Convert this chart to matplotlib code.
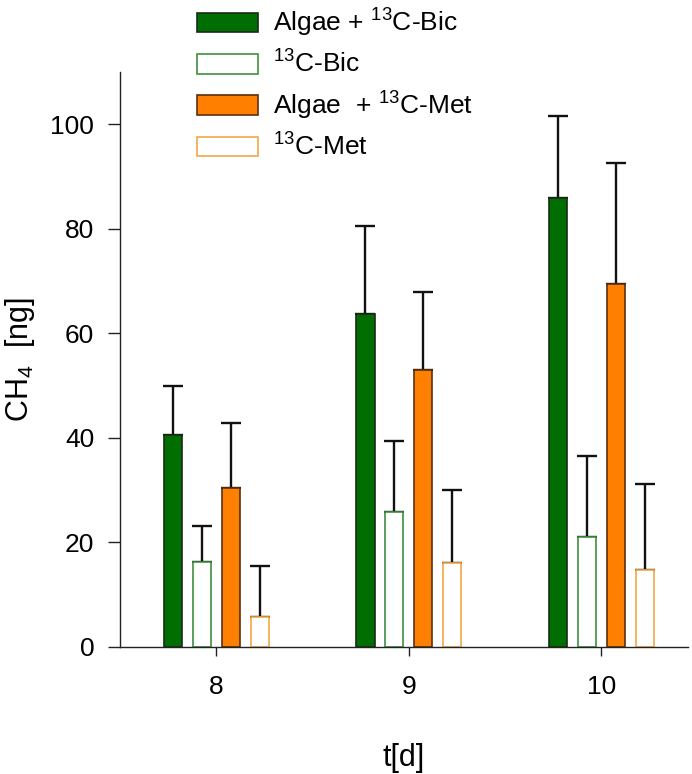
import numpy as np
import matplotlib
matplotlib.use("Agg")
from matplotlib import pyplot as plt

plt.rcParams['font.family'] = ['Liberation Sans', 'DejaVu Sans']
plt.rcParams['mathtext.fontset'] = 'custom'
plt.rcParams['mathtext.rm'] = 'Liberation Sans'
plt.rcParams['mathtext.it'] = 'Liberation Sans:italic'
plt.rcParams['font.size'] = 19

# data
days = [8, 9, 10]
labels = ["Algae + $^{13}$C-Bic", "$^{13}$C-Bic", "Algae  + $^{13}$C-Met", "$^{13}$C-Met"]
algae_bic = [40.6, 63.8, 85.9]
algae_bic_top = [50.0, 80.5, 101.5]
bic = [16.2, 25.8, 21.0]
bic_top = [23.1, 39.4, 36.5]
algae_met = [30.5, 52.9, 69.4]
algae_met_top = [42.9, 68.0, 92.5]
met = [5.7, 16.0, 14.7]
met_top = [15.5, 30.0, 31.2]

series = [algae_bic, bic, algae_met, met]
tops = [algae_bic_top, bic_top, algae_met_top, met_top]
faces = ['#006e00', 'white', '#ff8000', 'white']
edges = ['#1a2a1a', '#3f8f3f', '#5a3010', '#f2a845']
offsets = [-0.225, -0.075, 0.075, 0.225]

fig = plt.figure(figsize=(6.92, 7.74), dpi=100)
ax = fig.add_axes([120/692, 127/774, 568/692, 575/774])

x = np.array(days, dtype=float)
handles = []
for vals, top, fc, ec, off, lab in zip(series, tops, faces, edges, offsets, labels):
    vals = np.array(vals)
    up = np.array(top) - vals
    b = ax.bar(x + off, vals, width=0.094, color=fc, edgecolor=ec, linewidth=1.2,
               yerr=[np.zeros_like(vals), up], label=lab, zorder=2,
               error_kw=dict(ecolor='#111111', elinewidth=1.7, capsize=7.5, capthick=1.7, zorder=1))
    handles.append(b)

ax.set_xlim(7.5, 10.45)
ax.set_ylim(0, 110)
ax.set_xticks(days)
ax.set_yticks([0, 20, 40, 60, 80, 100])
ax.spines['top'].set_visible(False)
ax.spines['right'].set_visible(False)
for s in ['left', 'bottom']:
    ax.spines[s].set_linewidth(1.0)
    ax.spines[s].set_color('#222222')
ax.tick_params(axis='y', length=8.5, width=1.0, pad=10, color='#222222')
ax.tick_params(axis='x', length=6.5, width=1.0, pad=14, color='#222222')

ax.set_ylabel("CH$_4$  [ng]", fontsize=22, labelpad=10)
ax.set_xlabel("t[d]", fontsize=22, labelpad=31)

fig.legend(handles=handles, labels=labels, loc='upper left',
           bbox_to_anchor=(197/692, 1 - 7/774), frameon=False,
           borderpad=0, borderaxespad=0, handlelength=2.3, handleheight=0.76,
           handletextpad=0.57, labelspacing=0.44, fontsize=19)

plt.savefig("out.png", dpi=100)
